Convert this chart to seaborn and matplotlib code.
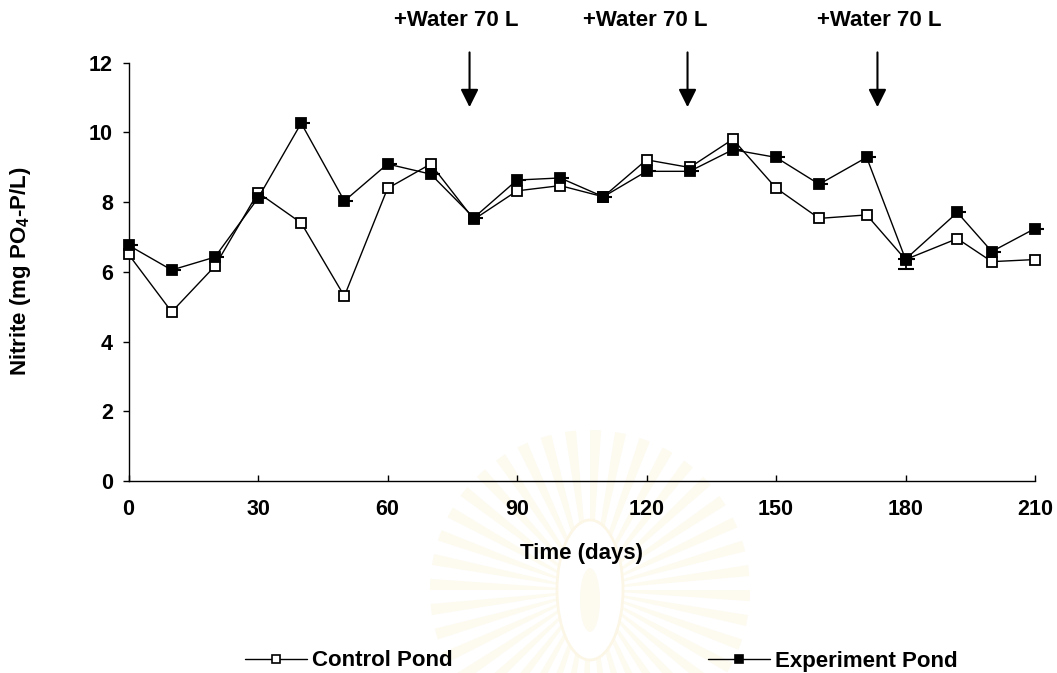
import numpy as np
import pandas as pd
import matplotlib
matplotlib.use("Agg")
import matplotlib.pyplot as plt
from matplotlib.path import Path
from matplotlib.lines import Line2D
from matplotlib.patches import Wedge, Ellipse
import seaborn as sns

# Sampling days and mean nitrite concentrations in the two ponds
days = [0, 10, 20, 30, 40, 50, 60, 70, 80, 90, 100, 110, 120, 130, 140,
        150, 160, 171, 180, 192, 200, 210]
control = [6.50, 4.85, 6.16, 8.27, 7.40, 5.30, 8.39, 9.09, 7.50, 8.32, 8.47,
           8.15, 9.21, 8.99, 9.80, 8.40, 7.53, 7.63, 6.35, 6.95, 6.29, 6.35]
experiment = [6.76, 6.05, 6.42, 8.11, 10.26, 8.03, 9.09, 8.80, 7.55, 8.63, 8.69,
              8.15, 8.88, 8.88, 9.50, 9.28, 8.51, 9.28, 6.36, 7.70, 6.58, 7.24]
experiment_err = [0, 0, 0, 0, 0, 0, 0, 0, 0, 0, 0,
                  0, 0, 0, 0, 0, 0, 0, 0.27, 0, 0, 0]

# Water additions
water_days = [79, 129.5, 173.5]
water_label_x = [76, 119.7, 174]
water_label = "+Water 70 L"

x_ticks = [0, 30, 60, 90, 120, 150, 180, 210]
y_ticks = [0, 2, 4, 6, 8, 10, 12]
series_names = ["Control Pond", "Experiment Pond"]

sns.set_theme(style="white")
plt.rcParams["font.family"] = ["Liberation Sans", "DejaVu Sans"]
plt.rcParams["font.weight"] = "bold"
plt.rcParams["mathtext.default"] = "regular"
plt.rcParams["text.color"] = "black"
plt.rcParams["axes.labelcolor"] = "black"
plt.rcParams["xtick.color"] = "black"
plt.rcParams["ytick.color"] = "black"

df = pd.DataFrame({"Time": days, "Control": control, "Experiment": experiment})

fig = plt.figure(figsize=(10.57, 6.73), dpi=100)
fig.patch.set_facecolor("white")

# very faint emblem in the page background
bg = fig.add_axes([0, 0, 1, 1], zorder=-5)
bg.set_xlim(0, 1057)
bg.set_ylim(673, 0)
bg.axis("off")
cx, cy = 590, 590
for i in range(40):
    a0 = i * 9
    bg.add_patch(Wedge((cx, cy), 160, a0, a0 + 4, facecolor="#fdfaf0",
                       edgecolor="none"))
bg.add_patch(Ellipse((cx, cy), 66, 140, facecolor="white", edgecolor="#fbf6e6",
                     lw=2))
bg.add_patch(Ellipse((cx, cy + 10), 20, 64, facecolor="#fdfaf0",
                     edgecolor="none"))

ax = fig.add_axes([0.1216, 0.2853, 0.8576, 0.6218])
ax.set_facecolor("none")

marker_common = dict(marker="s", markersize=7.5, markeredgecolor="black",
                     markeredgewidth=1.3)
sns.lineplot(data=df, x="Time", y="Control", ax=ax, color="black", lw=1,
             markerfacecolor="white", zorder=3, **marker_common)

# Error bars where they extend beyond the marker
err = np.asarray(experiment_err)
mask = err > 0
ax.errorbar(np.asarray(days)[mask], np.asarray(experiment)[mask],
            yerr=[err[mask], np.zeros(mask.sum())], fmt="none",
            ecolor="black", elinewidth=1.3, capsize=5.5, capthick=1.5,
            zorder=3.5)
# short right-hand caps of the experiment series
ax.plot(days, experiment, ls="none",
        marker=Path([[0, 0], [1, 0]], [Path.MOVETO, Path.LINETO]),
        markersize=13, markeredgewidth=1.5, color="black", zorder=3.6,
        clip_on=False)
sns.lineplot(data=df, x="Time", y="Experiment", ax=ax, color="black", lw=1,
             markerfacecolor="black", zorder=4, **marker_common)

for line in ax.get_lines():
    line.set_clip_on(False)

ax.set_xlim(0, 210)
ax.set_ylim(0, 12)
ax.set_xticks(x_ticks)
ax.set_yticks(y_ticks)
sns.despine(ax=ax)
for side in ("left", "bottom"):
    ax.spines[side].set_color("black")
    ax.spines[side].set_linewidth(1)

ax.tick_params(axis="y", direction="out", length=4.3, width=1, pad=6.8,
               labelsize=15.5, colors="black", left=True)
ax.tick_params(axis="x", direction="in", length=4.3, width=1, pad=13,
               labelsize=15.5, colors="black", bottom=True)
for lab in ax.get_xticklabels() + ax.get_yticklabels():
    lab.set_fontweight("bold")

ax.set_xlabel("Time (days)", fontsize=16, fontweight="bold", color="black")
ax.set_ylabel("Nitrite (mg PO$_4$-P/L)", fontsize=16, fontweight="bold",
              color="black")
ax.xaxis.set_label_coords(0.5, -0.173)
ax.xaxis.label.set_va("center")
ax.yaxis.set_label_coords(-0.1197, 0.5)
ax.yaxis.label.set_va("center")

for xd, xt in zip(water_days, water_label_x):
    ax.annotate("", xy=(xd, 10.72), xytext=(xd, 12.29),
                arrowprops=dict(arrowstyle="-|>,head_length=0.54,head_width=0.27",
                                lw=1.5, color="black", shrinkA=0, shrinkB=0,
                                mutation_scale=20),
                annotation_clip=False)
    ax.text(xt, 13.2, water_label, ha="center", va="center", fontsize=16,
            fontweight="bold", color="black", clip_on=False)

handles = [
    Line2D([], [], color="black", lw=1, marker="s", markersize=5.5,
           markerfacecolor="white", markeredgecolor="black", markeredgewidth=1.2),
    Line2D([], [], color="black", lw=1, marker="s", markersize=5.5,
           markerfacecolor="black", markeredgecolor="black", markeredgewidth=1.2),
]
leg = fig.legend(handles, series_names, loc="center left",
                 bbox_to_anchor=(245 / 1057, 1 - 661 / 673), ncol=2,
                 frameon=False, prop=dict(weight="bold", size=16),
                 handlelength=2.8, handletextpad=0.2, columnspacing=11.5,
                 borderpad=0, borderaxespad=0)
for t in leg.get_texts():
    t.set_color("black")

fig.savefig("out.png", dpi=100, facecolor="white")
